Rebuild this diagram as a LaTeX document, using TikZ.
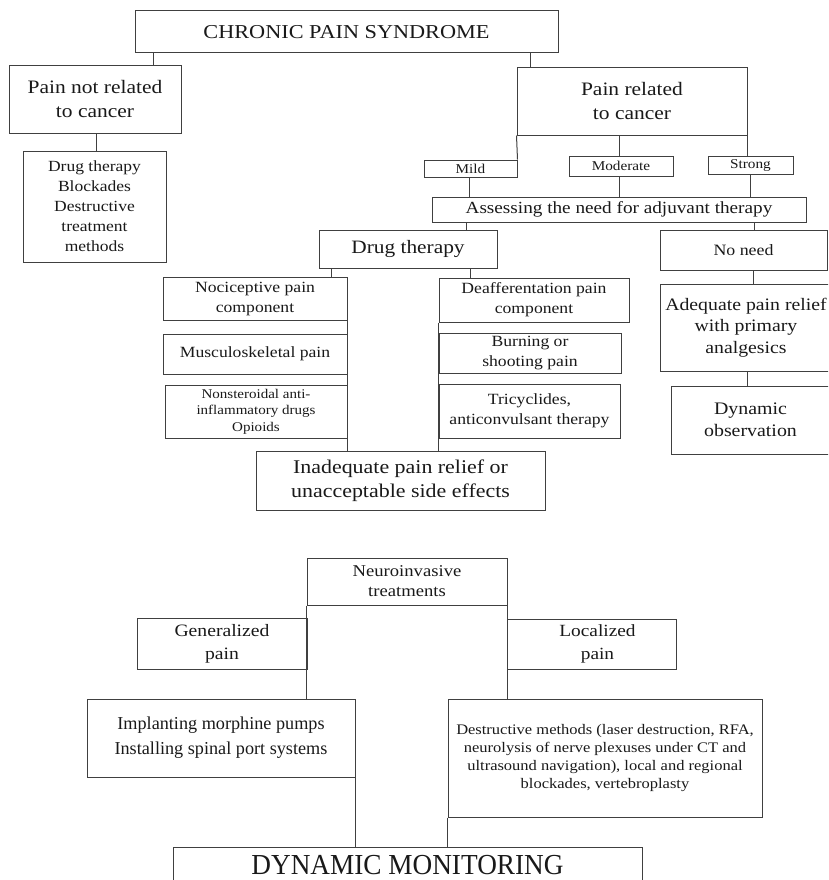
\documentclass[tikz,border=0pt]{standalone}
\usepackage{fontspec}
\setmainfont{Liberation Serif}
\newfontfamily\fA{Liberation Serif}[FakeStretch=1.13]
\newfontfamily\fB{Liberation Serif}[FakeStretch=1.0]
\newfontfamily\fC{Liberation Serif}[FakeStretch=0.94]
\newcommand\myfs[2]{\fontsize{#1}{#2}\selectfont}
\definecolor{linec}{gray}{0.25}
\begin{document}
\begin{tikzpicture}[x=1pt,y=-1pt,
  box/.style={draw=linec, line width=1pt, inner sep=0pt, align=center, text=black!90},
  wh/.style 2 args={minimum width=#1pt, minimum height=#2pt},
  conn/.style={draw=linec, line width=1pt}]
\useasboundingbox (0,0) rectangle (828,880);
\clip (0,0) rectangle (828,880);
% top part
\node[box, wh={423}{42}, font={\fA\myfs{19.7}{24}}] (chronic) at (346.5,32) {CHRONIC PAIN SYNDROME};
\node[box, wh={172}{67}, font={\fA\myfs{19}{24}}] (pnr) at (95,99.5) {Pain not related\\to cancer};
\node[box, wh={143}{111}, font={\fA\myfs{15.5}{20}}] (ldrug) at (94.5,206.5) {Drug therapy\\Blockades\\Destructive\\treatment\\methods};
\node[box, wh={230}{67}, font={\fA\myfs{19}{24}}] (pr) at (632,101.5) {Pain related\\to cancer};
\node[box, wh={93}{17}, font={\fA\myfs{13.5}{15}}] (mild) at (470.5,168.5) {Mild};
\node[box, wh={104}{20}, font={\fA\myfs{13.5}{15}}] (moderate) at (621,166) {Moderate};
\node[box, wh={85}{18}, font={\fA\myfs{13.5}{15}}] (strong) at (750.5,165) {Strong};
\node[box, wh={374}{25}, font={\fA\myfs{17}{20}}] (assess) at (619,209.5) {Assessing the need for adjuvant therapy};
\node[box, wh={178}{38}, font={\fA\myfs{18.9}{22}}] (mdrug) at (408,249) {Drug therapy};
\node[box, wh={167}{40}, font={\fA\myfs{15.8}{20}}] (noneed) at (743.5,250) {No need};
\node[box, wh={184}{43}, font={\fA\myfs{15.6}{20}}] (noci) at (255,298.5) {Nociceptive pain\\component};
\node[box, wh={184}{40}, font={\fA\myfs{15.6}{20}}] (musc) at (255,354) {Musculoskeletal pain};
\node[box, wh={182}{53}, font={\fA\myfs{13.3}{16.7}}] (nsaid) at (256,411.5) {Nonsteroidal anti-\\inflammatory drugs\\Opioids};
\node[box, wh={190}{44}, font={\fA\myfs{15.6}{20}}] (deaff) at (534,300) {Deafferentation pain\\component};
\node[box, wh={182}{40}, font={\fA\myfs{15.6}{20}}] (burn) at (530,353) {Burning or\\shooting pain};
\node[box, wh={181}{54}, font={\fA\myfs{15.6}{20}}] (tric) at (529.5,411) {Tricyclides,\\anticonvulsant therapy};
\node[box, wh={289}{59}, font={\fA\myfs{19.4}{24}}] (inad) at (400.5,480.5) {Inadequate pain relief or\\unacceptable side effects};
\node[box, wh={172}{87}, font={\fA\myfs{17.5}{21.7}}] (adeq) at (746,327.5) {Adequate pain relief\\with primary\\analgesics};
\node[box, wh={159}{68}, font={\fA\myfs{17.6}{22}}] (dynobs) at (750.5,420) {Dynamic\\observation};
% bottom part
\node[box, wh={200}{47}, font={\fA\myfs{16.5}{20}}] (neuro) at (407,581.5) {Neuroinvasive\\treatments};
\node[box, wh={170}{51}, font={\fA\myfs{17.4}{23}}] (gen) at (222,643.5) {Generalized\\pain};
\node[box, wh={169}{50}, font={\fA\myfs{17.1}{23}}] (loc) at (591.5,644) {\hspace*{12pt}Localized\\\hspace*{12pt}pain};
\node[box, wh={268}{78}, font={\fB\myfs{18.2}{25}}] (impl) at (221,738) {Implanting morphine pumps\\Installing spinal port systems};
\node[box, wh={314}{118}, font={\fA\myfs{14.6}{18.3}}] (destr) at (605,758) {Destructive methods (laser destruction, RFA,\\neurolysis of nerve plexuses under CT and\\ultrasound navigation), local and regional\\blockades, vertebroplasty};
\node[box, wh={469}{36}, font={\fC\myfs{29}{32}}] (dynmon) at (407.5,865) {DYNAMIC MONITORING};
% connectors
\draw[conn] (chronic.south -| 153,0) -- (pnr.north -| 153,0);
\draw[conn] (chronic.south -| 530,0) -- (pr.north -| 530,0);
\draw[conn] (pnr.south -| 96,0) -- (ldrug.north -| 96,0);
\draw[conn] (pr.south west) -- (mild.north east);
\draw[conn] (pr.south -| 619,0) -- (moderate.north -| 619,0);
\draw[conn] (pr.south east) -- (strong.north -| pr.south east);
\draw[conn] (mild.south -| 469,0) -- (assess.north -| 469,0);
\draw[conn] (moderate.south -| 619,0) -- (assess.north -| 619,0);
\draw[conn] (strong.south -| 750,0) -- (assess.north -| 750,0);
\draw[conn] (assess.south -| 466,0) -- (mdrug.north -| 466,0);
\draw[conn] (assess.south -| 754,0) -- (noneed.north -| 754,0);
\draw[conn] (mdrug.south -| 331,0) -- (noci.north -| 331,0);
\draw[conn] (mdrug.south -| 470,0) -- (deaff.north -| 470,0);
\draw[conn] (noci.south east) -- (inad.north -| noci.south east);
\draw[conn] (deaff.south west) -- (inad.north -| deaff.south west);
\draw[conn] (noneed.south -| 753,0) -- (adeq.north -| 753,0);
\draw[conn] (adeq.south -| 747,0) -- (dynobs.north -| 747,0);
\draw[conn] (neuro.south west) -- (impl.north -| neuro.south west);
\draw[conn] (neuro.south east) -- (destr.north -| neuro.south east);
\draw[conn] (impl.south east) -- (dynmon.north -| impl.south east);
\draw[conn] (destr.south west) -- (dynmon.north -| destr.south west);
\end{tikzpicture}
\end{document}
